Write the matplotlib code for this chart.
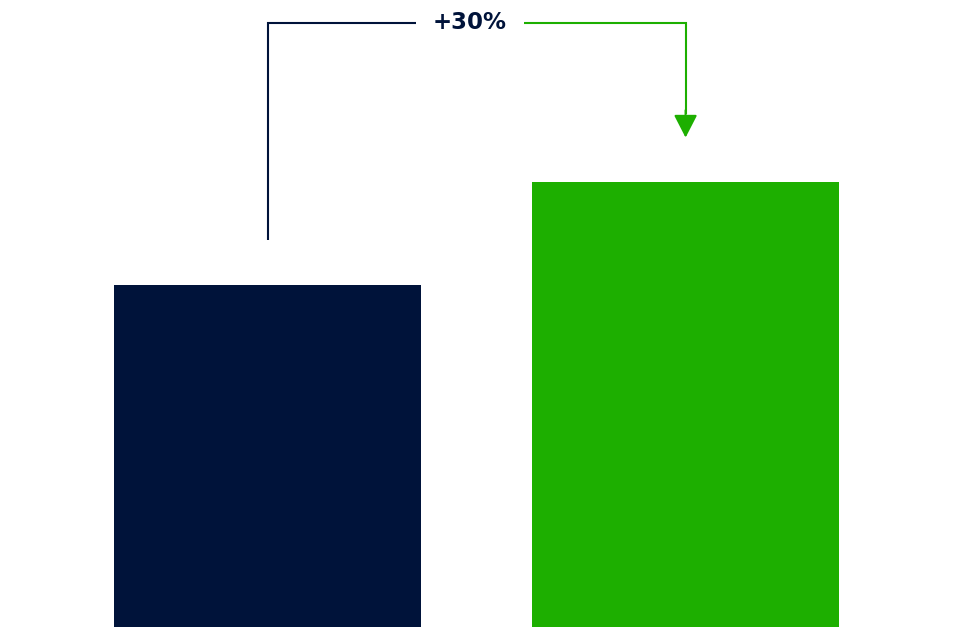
import matplotlib
matplotlib.use('Agg')
import matplotlib.pyplot as plt

# data
categories = ['Before', 'After']
values = [100, 130]
change_label = '+30%'

navy = '#00133A'
green = '#1DAF00'

fig = plt.figure(figsize=(9.64, 6.27), dpi=100)
ax = fig.add_axes([0, 0, 1, 1])

x = [0, 1]
ax.bar(x, values, width=0.734, color=[navy, green])

ax.set_xlim(-0.640, 1.666)
ax.set_ylim(0, 183.2)
ax.axis('off')

# bracket showing the change
top = 176.5
ax.plot([x[0], x[0], 0.355], [values[0] + 13, top, top], color=navy, lw=1.5,
        solid_capstyle='butt', solid_joinstyle='miter')
ax.text(0.484, top, change_label, ha='center', va='center', fontsize=16.5,
        color=navy, fontfamily='DejaVu Sans', fontweight='bold')
ax.plot([0.614, x[1], x[1]], [top, top, values[1] + 20], color=green, lw=1.5,
        solid_capstyle='butt', solid_joinstyle='miter')
ax.annotate('', xy=(x[1], values[1] + 13), xytext=(x[1], values[1] + 21),
            arrowprops=dict(arrowstyle='-|>,head_length=1.4,head_width=0.72',
                            color=green, lw=1.5, shrinkA=0, shrinkB=0))

fig.savefig('out.png', dpi=100)
